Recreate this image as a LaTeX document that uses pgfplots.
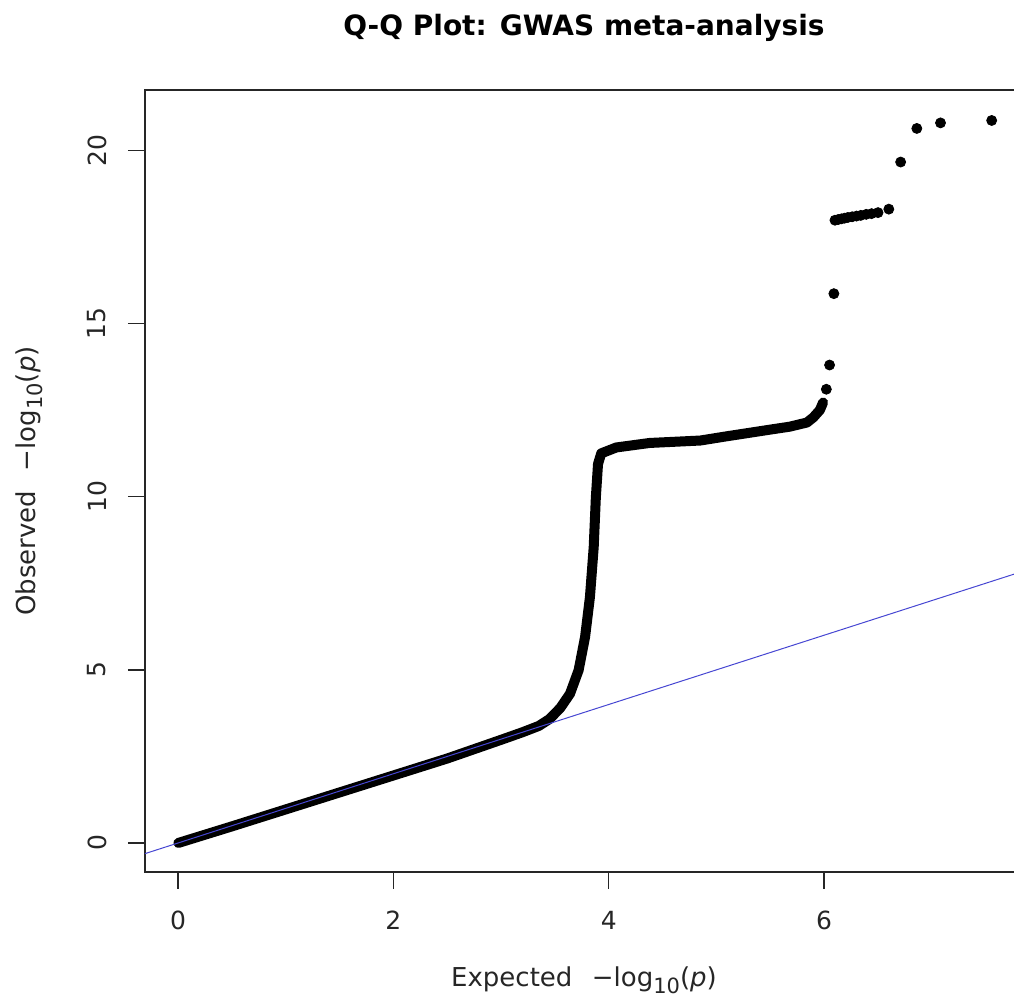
\documentclass[border=0pt]{standalone}
\usepackage{fontspec}
\setmainfont{DejaVu Sans}
\usepackage{pgfplots}
\pgfplotsset{compat=1.18}
\definecolor{abl}{RGB}{70,70,210}
\newcommand{\mlogp}{−log\raisebox{-0.28em}{\fontsize{10.5}{12}\selectfont 10}(\textit{p})}
\begin{document}
\begin{tikzpicture}
\useasboundingbox (0pt,0pt) rectangle (507pt,500.5pt);
\begin{axis}[
  at={(72.5pt,64.5pt)}, anchor=south west,
  scale only axis, width=439pt, height=391pt,
  xmin=-0.306, xmax=7.846, ymin=-0.836, ymax=21.74,
  axis line style={black!85, line width=0.8pt},
  xtick={0,2,4,6}, ytick={0,5,10,15,20},
  tick pos=left, tick align=outside, major tick length=8.5pt,
  tick style={black!85, line width=0.7pt},
  /pgf/number format/assume math mode=true,
  ticklabel style={font=\fontsize{12.5}{14}\selectfont, text=black!85},
  xticklabel style={anchor=center, yshift=-15.5pt},
  yticklabel style={anchor=center, xshift=-15.5pt, rotate=90},
  title={Q-Q Plot: GWAS meta-analysis},
  every axis title/.style={at={(axis description cs:0.5,1)}, anchor=center,
    yshift=31pt, font=\bfseries\fontsize{14}{16}\selectfont},
  xlabel={Expected\hspace{0.75em}\mlogp},
  ylabel={Observed\hspace{0.75em}\mlogp},
  every axis x label/.style={at={(axis description cs:0.5,0)}, anchor=center,
    yshift=-54pt, font=\fontsize{13}{15}\selectfont, text=black!85},
  every axis y label/.style={at={(axis description cs:0,0.5)}, anchor=center,
    xshift=-58pt, rotate=90, font=\fontsize{13}{15}\selectfont, text=black!85},
  clip=true,
]
% dense band of observed p-values
\addplot[black, line width=5pt, line cap=round, line join=round] coordinates {
  (0.003,0.002) (0.5,0.48) (1.0,0.97) (1.5,1.46) (2.0,1.95) (2.5,2.44)
  (3.0,2.98) (3.2,3.2) (3.35,3.38) (3.45,3.58) (3.55,3.90) (3.64,4.31)
  (3.72,4.99) (3.78,5.95) (3.825,7.10) (3.86,8.54) (3.88,9.98) (3.90,10.94)
  (3.93,11.25) (4.07,11.42) (4.38,11.55) (4.65,11.59) (4.85,11.62) (5.09,11.74)
  (5.30,11.84) (5.53,11.95) (5.68,12.02) (5.84,12.14) (5.90,12.29) (5.96,12.50) (5.99,12.72)
};
% sparse top hits
\addplot[only marks, mark=*, mark size=2.5pt, black] coordinates {
  (6.02,13.10) (6.05,13.80) (6.09,15.86)
  (6.10,17.98) (6.13,18.00) (6.16,18.02) (6.19,18.04) (6.22,18.06)
  (6.26,18.08) (6.30,18.10) (6.34,18.12) (6.39,18.15) (6.44,18.17)
  (6.50,18.20) (6.60,18.30)
  (6.71,19.66) (6.86,20.63) (7.08,20.79) (7.555,20.86)
};
% y = x reference
\addplot[abl, line width=0.5pt] coordinates {(-0.5,-0.5) (8,8)};
\end{axis}
\end{tikzpicture}
\end{document}
